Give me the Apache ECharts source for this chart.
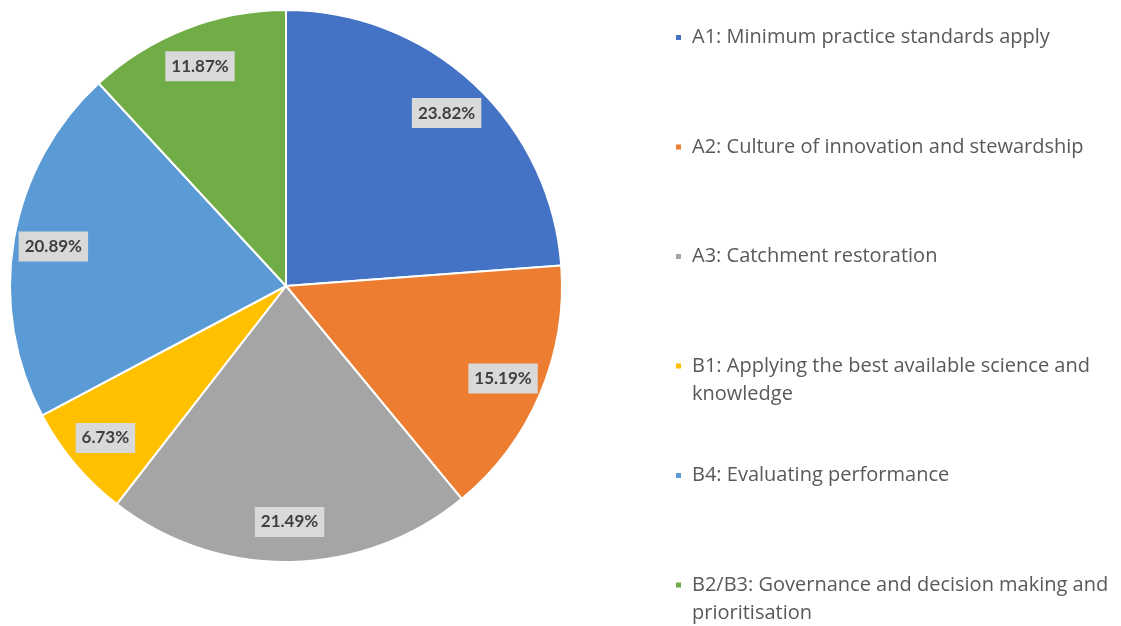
<!DOCTYPE html>
<html><head><meta charset="utf-8">
<script src="https://cdn.jsdelivr.net/npm/echarts@6/dist/echarts.min.js"></script>
<style>html,body{margin:0;padding:0;background:#fff}#c{width:1121px;height:626px}</style>
</head><body><div id="c"></div>
<script>
const legendLines = [
  ['A1: Minimum practice standards apply'],
  ['A2: Culture of innovation and stewardship'],
  ['A3: Catchment restoration'],
  ['B1: Applying the best available science and', 'knowledge'],
  ['B4: Evaluating performance'],
  ['B2/B3: Governance and decision making and', 'prioritisation']
];
const categories = legendLines.map(l => l.join(' '));
const values = [23.82, 15.19, 21.49, 6.73, 20.89, 11.87];
const colors = ['#4472C4', '#ED7D31', '#A5A5A5', '#FFC000', '#5B9BD5', '#70AD47'];

const chart = echarts.init(document.getElementById('c'), null, {renderer: 'canvas'});
const LH = 28;
const rowCenters = [37.5, 147, 256.5, 366, 475.5, 585];
const FONT = 'Open Sans';
const data = categories.map((n, i) => ({name: n, value: values[i], itemStyle: {color: colors[i]}}));

chart.setOption({
  animation: false,
  color: colors,
  legend: categories.map((name, i) => {
    const lines = legendLines[i].length > 1 ? [''].concat(legendLines[i]) : legendLines[i];
    const boxH = lines.length * LH;
    return {
      data: [name], orient: 'vertical', left: 674, top: rowCenters[i] - boxH / 2,
      padding: 0, icon: 'rect', itemWidth: 7, itemHeight: 7, selectedMode: false,
      formatter: () => lines.join('\n'),
      textStyle: {fontFamily: FONT, fontSize: 20, color: '#595959', lineHeight: LH,
        padding: [0, 0, 0, 5]}
    };
  }),
  series: [
    {
      type: 'pie', center: [286, 286], radius: 276, startAngle: 90, clockwise: true,
      data: data, silent: true,
      itemStyle: {borderColor: '#fff', borderWidth: 2},
      label: {show: false}, labelLine: {show: false}
    },
    {
      type: 'pie', center: [286, 286], radius: [190, 276], startAngle: 90, clockwise: true,
      silent: true,
      data: categories.map((n, i) => ({name: n, value: values[i]})),
      itemStyle: {color: 'rgba(0,0,0,0)', borderWidth: 0},
      emphasis: {disabled: true},
      label: {
        show: true, position: 'inside',
        formatter: p => p.value.toFixed(2) + '%',
        fontFamily: 'Lato', fontWeight: 'bold', fontSize: 17, color: '#404040',
        backgroundColor: '#D9D9D9', padding: [7, 6, 6, 6]
      },
      labelLine: {show: false}
    }
  ]
});
</script>
</body></html>
